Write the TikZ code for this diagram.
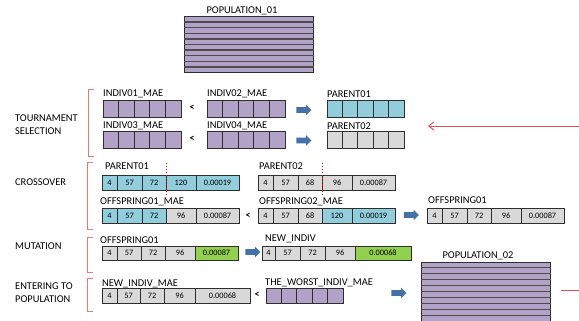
\documentclass[tikz,border=0pt]{standalone}
\usepackage{fontspec}
\setmainfont{Carlito}
\usetikzlibrary{shapes.arrows, arrows.meta}
\definecolor{indivpurple}{HTML}{B3A2C7}
\definecolor{parentblue}{HTML}{92CDDC}
\definecolor{genegray}{HTML}{D9D9D9}
\definecolor{mutgreen}{HTML}{92D050}
\definecolor{cellborder}{HTML}{2E2E2E}
\definecolor{flowblue}{HTML}{4472A8}
\definecolor{bracketred}{HTML}{E27A7A}
\definecolor{linered}{HTML}{E05050}

\begin{document}
\begin{tikzpicture}[x=1pt, y=-1pt,
        cell/.style={rectangle, draw=cellborder, line width=1pt, inner sep=0pt, minimum height=15pt, font=\fontsize{8.3}{9}\selectfont},
        lbl/.style={anchor=west, inner sep=0pt, text height=6.7pt, text depth=0pt, font=\fontsize{10.4}{12}\selectfont},
        less/.style={inner sep=0pt, font=\fontsize{10}{10}\selectfont\bfseries},
        flow/.style={single arrow, fill=flowblue, draw=none, inner xsep=0pt, inner ysep=2.6pt, minimum height=15pt, minimum width=10.5pt, single arrow head extend=2.6pt},
        stage/.style={draw=bracketred, line width=0.9pt},
        popbox/.style={rectangle, draw=cellborder, line width=1pt, fill=indivpurple, inner sep=0pt, minimum width=129pt},
        stripe/.style={draw=cellborder!85, line width=1.3pt}]
        \clip (0,0) rectangle (579,321);

        % population 01
        \node at (242, 10) [lbl, anchor=center] (pop01_lbl) {POPULATION\_01};
        \node at (248.5, 45) [popbox, minimum height=56pt] (pop01) {};
        \foreach \k in {1,...,9}
            \draw[stripe] ([yshift=-\k*5.6pt]pop01.north west) -- ([yshift=-\k*5.6pt]pop01.north east);

        % tournament selection
        \node at (15, 124.5) [lbl, align=left, text height=, font=\fontsize{10.4}{13.5}\selectfont] (sel_txt) {TOURNAMENT\\SELECTION};
        \draw[stage] (94, 89) -- (88, 89) -- (88, 156) -- (94, 156);

        \node at (103, 93.5) [lbl] (ind01_lbl) {INDIV01\_MAE};
        \node at (110.8, 109.5) [cell, fill=indivpurple, minimum width=15.6pt, minimum height=17pt] (ind01_1) {};
        \node at (126.4, 109.5) [cell, fill=indivpurple, minimum width=15.6pt, minimum height=17pt] (ind01_2) {};
        \node at (142.0, 109.5) [cell, fill=indivpurple, minimum width=15.6pt, minimum height=17pt] (ind01_3) {};
        \node at (157.6, 109.5) [cell, fill=indivpurple, minimum width=15.6pt, minimum height=17pt] (ind01_4) {};
        \node at (173.2, 109.5) [cell, fill=indivpurple, minimum width=15.6pt, minimum height=17pt] (ind01_5) {};
        \node at (192, 108) [less] (lt_1) {<};
        \node at (207, 93.5) [lbl] (ind02_lbl) {INDIV02\_MAE};
        \node at (214.8, 109.5) [cell, fill=indivpurple, minimum width=15.6pt, minimum height=17pt] (ind02_1) {};
        \node at (230.4, 109.5) [cell, fill=indivpurple, minimum width=15.6pt, minimum height=17pt] (ind02_2) {};
        \node at (246.0, 109.5) [cell, fill=indivpurple, minimum width=15.6pt, minimum height=17pt] (ind02_3) {};
        \node at (261.6, 109.5) [cell, fill=indivpurple, minimum width=15.6pt, minimum height=17pt] (ind02_4) {};
        \node at (277.2, 109.5) [cell, fill=indivpurple, minimum width=15.6pt, minimum height=17pt] (ind02_5) {};
        \node at (302.5, 110) [flow] (arr_1) {};
        \node at (327, 94.5) [lbl] (par01_lbl) {PARENT01};
        \node at (334.7, 109.5) [cell, fill=parentblue, minimum width=15.4pt, minimum height=17pt] (par01_1) {};
        \node at (350.1, 109.5) [cell, fill=parentblue, minimum width=15.4pt, minimum height=17pt] (par01_2) {};
        \node at (365.5, 109.5) [cell, fill=parentblue, minimum width=15.4pt, minimum height=17pt] (par01_3) {};
        \node at (380.9, 109.5) [cell, fill=parentblue, minimum width=15.4pt, minimum height=17pt] (par01_4) {};
        \node at (396.3, 109.5) [cell, fill=parentblue, minimum width=15.4pt, minimum height=17pt] (par01_5) {};

        \node at (103, 125.5) [lbl] (ind03_lbl) {INDIV03\_MAE};
        \node at (110.8, 140) [cell, fill=indivpurple, minimum width=15.6pt, minimum height=17pt] (ind03_1) {};
        \node at (126.4, 140) [cell, fill=indivpurple, minimum width=15.6pt, minimum height=17pt] (ind03_2) {};
        \node at (142.0, 140) [cell, fill=indivpurple, minimum width=15.6pt, minimum height=17pt] (ind03_3) {};
        \node at (157.6, 140) [cell, fill=indivpurple, minimum width=15.6pt, minimum height=17pt] (ind03_4) {};
        \node at (173.2, 140) [cell, fill=indivpurple, minimum width=15.6pt, minimum height=17pt] (ind03_5) {};
        \node at (192, 139) [less] (lt_2) {<};
        \node at (207, 125.5) [lbl] (ind04_lbl) {INDIV04\_MAE};
        \node at (214.8, 140) [cell, fill=indivpurple, minimum width=15.6pt, minimum height=17pt] (ind04_1) {};
        \node at (230.4, 140) [cell, fill=indivpurple, minimum width=15.6pt, minimum height=17pt] (ind04_2) {};
        \node at (246.0, 140) [cell, fill=indivpurple, minimum width=15.6pt, minimum height=17pt] (ind04_3) {};
        \node at (261.6, 140) [cell, fill=indivpurple, minimum width=15.6pt, minimum height=17pt] (ind04_4) {};
        \node at (277.2, 140) [cell, fill=indivpurple, minimum width=15.6pt, minimum height=17pt] (ind04_5) {};
        \node at (302.5, 140.5) [flow] (arr_2) {};
        \node at (327, 126) [lbl] (par02_lbl) {PARENT02};
        \node at (334.7, 140) [cell, fill=genegray, minimum width=15.4pt, minimum height=17pt] (par02_1) {};
        \node at (350.1, 140) [cell, fill=genegray, minimum width=15.4pt, minimum height=17pt] (par02_2) {};
        \node at (365.5, 140) [cell, fill=genegray, minimum width=15.4pt, minimum height=17pt] (par02_3) {};
        \node at (380.9, 140) [cell, fill=genegray, minimum width=15.4pt, minimum height=17pt] (par02_4) {};
        \node at (396.3, 140) [cell, fill=genegray, minimum width=15.4pt, minimum height=17pt] (par02_5) {};

        \coordinate (fb_from) at (579, 126);
        \coordinate (fb_to) at (428, 126);
        \draw[linered, line width=0.9pt, -{Straight Barb[length=5pt, width=8pt]}] (fb_from) -- (fb_to);

        % crossover
        \node at (15, 182.5) [lbl] (cross_txt) {CROSSOVER};
        \draw[stage] (93, 162) -- (87, 162) -- (87, 229) -- (93, 229);

        \node at (105, 166.5) [lbl] (p1x_lbl) {PARENT01};
        \node at (109.5, 182.5) [cell, fill=parentblue, minimum width=15pt] (p1x_1) {4};
        \node at (129.5, 182.5) [cell, fill=parentblue, minimum width=25pt] (p1x_2) {57};
        \node at (154.0, 182.5) [cell, fill=parentblue, minimum width=24pt] (p1x_3) {72};
        \node at (181.0, 182.5) [cell, fill=parentblue, minimum width=30pt] (p1x_4) {120};
        \node at (217.5, 182.5) [cell, fill=parentblue, minimum width=43pt] (p1x_5) {0.00019};
        \node at (259, 166.5) [lbl] (p2x_lbl) {PARENT02};
        \node at (265.5, 182.5) [cell, fill=genegray, minimum width=15pt] (p2x_1) {4};
        \node at (285.5, 182.5) [cell, fill=genegray, minimum width=25pt] (p2x_2) {57};
        \node at (310.0, 182.5) [cell, fill=genegray, minimum width=24pt] (p2x_3) {68};
        \node at (337.0, 182.5) [cell, fill=genegray, minimum width=30pt] (p2x_4) {96};
        \node at (373.5, 182.5) [cell, fill=genegray, minimum width=43pt] (p2x_5) {0.00087};
        \draw[red, line width=1.1pt, dotted] ([yshift=12pt]p1x_3.north east) -- ([yshift=-4pt]p1x_3.south east);
        \draw[red, line width=1.1pt, dotted] ([yshift=12pt]p2x_3.north east) -- ([yshift=-4pt]p2x_3.south east);

        \node at (100, 201.5) [lbl] (o1m_lbl) {OFFSPRING01\_MAE};
        \node at (109.5, 215.5) [cell, fill=parentblue, minimum width=15pt] (o1m_1) {4};
        \node at (129.5, 215.5) [cell, fill=parentblue, minimum width=25pt] (o1m_2) {57};
        \node at (154.0, 215.5) [cell, fill=parentblue, minimum width=24pt] (o1m_3) {72};
        \node at (181.0, 215.5) [cell, fill=genegray, minimum width=30pt] (o1m_4) {96};
        \node at (217.5, 215.5) [cell, fill=genegray, minimum width=43pt] (o1m_5) {0.00087};
        \node at (248, 216) [less] (lt_3) {<};
        \node at (259, 201.5) [lbl] (o2m_lbl) {OFFSPRING02\_MAE};
        \node at (265.5, 215.5) [cell, fill=genegray, minimum width=15pt] (o2m_1) {4};
        \node at (285.5, 215.5) [cell, fill=genegray, minimum width=25pt] (o2m_2) {57};
        \node at (310.0, 215.5) [cell, fill=genegray, minimum width=24pt] (o2m_3) {68};
        \node at (337.0, 215.5) [cell, fill=parentblue, minimum width=30pt] (o2m_4) {120};
        \node at (373.5, 215.5) [cell, fill=parentblue, minimum width=43pt] (o2m_5) {0.00019};
        \node at (410, 215) [flow] (arr_3) {};
        \node at (428, 200.5) [lbl] (o1_lbl) {OFFSPRING01};
        \node at (434.5, 215.5) [cell, fill=genegray, minimum width=15pt] (o1_1) {4};
        \node at (454.5, 215.5) [cell, fill=genegray, minimum width=25pt] (o1_2) {57};
        \node at (479.0, 215.5) [cell, fill=genegray, minimum width=24pt] (o1_3) {72};
        \node at (506.0, 215.5) [cell, fill=genegray, minimum width=30pt] (o1_4) {96};
        \node at (542.5, 215.5) [cell, fill=genegray, minimum width=43pt] (o1_5) {0.00087};

        % mutation
        \node at (15, 246.5) [lbl] (mut_txt) {MUTATION};
        \draw[stage] (93, 237) -- (87, 237) -- (87, 272) -- (93, 272);

        \node at (100, 240.5) [lbl] (o1mu_lbl) {OFFSPRING01};
        \node at (109.5, 253) [cell, fill=genegray, minimum width=15pt, minimum height=14pt] (o1mu_1) {4};
        \node at (129.0, 253) [cell, fill=genegray, minimum width=24pt, minimum height=14pt] (o1mu_2) {57};
        \node at (153.0, 253) [cell, fill=genegray, minimum width=24pt, minimum height=14pt] (o1mu_3) {72};
        \node at (180.0, 253) [cell, fill=genegray, minimum width=30pt, minimum height=14pt] (o1mu_4) {96};
        \node at (216.5, 253) [cell, fill=mutgreen, minimum width=43pt, minimum height=14pt] (o1mu_5) {0.00087};
        \node at (251.5, 252) [flow] (arr_4) {};
        \node at (265, 238.5) [lbl] (new_lbl) {NEW\_INDIV};
        \node at (268.5, 253) [cell, fill=genegray, minimum width=13pt, minimum height=14pt] (new_1) {4};
        \node at (287.5, 253) [cell, fill=genegray, minimum width=25pt, minimum height=14pt] (new_2) {57};
        \node at (312.5, 253) [cell, fill=genegray, minimum width=25pt, minimum height=14pt] (new_3) {72};
        \node at (340.0, 253) [cell, fill=genegray, minimum width=30pt, minimum height=14pt] (new_4) {96};
        \node at (383.0, 253) [cell, fill=mutgreen, minimum width=56pt, minimum height=14pt] (new_5) {0.00068};

        % entering to population
        \node at (15, 292.5) [lbl, align=left, text height=, font=\fontsize{10.4}{12.5}\selectfont] (ent_txt) {ENTERING TO\\POPULATION};
        \draw[stage] (93, 278) -- (87, 278) -- (87, 311) -- (93, 311);

        \node at (102, 283.5) [lbl] (nm_lbl) {NEW\_INDIV\_MAE};
        \node at (109.5, 295.5) [cell, fill=genegray, minimum width=15pt] (nm_1) {4};
        \node at (128.5, 295.5) [cell, fill=genegray, minimum width=23pt] (nm_2) {57};
        \node at (152.0, 295.5) [cell, fill=genegray, minimum width=24pt] (nm_3) {72};
        \node at (179.5, 295.5) [cell, fill=genegray, minimum width=31pt] (nm_4) {96};
        \node at (222.5, 295.5) [cell, fill=genegray, minimum width=55pt] (nm_5) {0.00068};
        \node at (257, 295) [less] (lt_4) {<};
        \node at (265, 282.5) [lbl] (worst_lbl) {THE\_WORST\_INDIV\_MAE};
        \node at (273.7, 295.5) [cell, fill=indivpurple, minimum width=15.4pt] (worst_1) {};
        \node at (289.1, 295.5) [cell, fill=indivpurple, minimum width=15.4pt] (worst_2) {};
        \node at (304.5, 295.5) [cell, fill=indivpurple, minimum width=15.4pt] (worst_3) {};
        \node at (319.9, 295.5) [cell, fill=indivpurple, minimum width=15.4pt] (worst_4) {};
        \node at (335.3, 295.5) [cell, fill=indivpurple, minimum width=15.4pt] (worst_5) {};
        \node at (397.5, 293) [flow] (arr_5) {};

        % population 02
        \node at (478, 255) [lbl, anchor=center] (pop02_lbl) {POPULATION\_02};
        \node at (485.5, 298) [popbox, minimum height=72pt] (pop02) {};
        \foreach \k in {1,...,11}
            \draw[stripe] ([yshift=-\k*6pt]pop02.north west) -- ([yshift=-\k*6pt]pop02.north east);
        \coordinate (out_from) at (561, 290);
        \coordinate (out_to) at (579, 290);
        \draw[linered, line width=0.9pt] (out_from) -- (out_to);
\end{tikzpicture}
\end{document}
